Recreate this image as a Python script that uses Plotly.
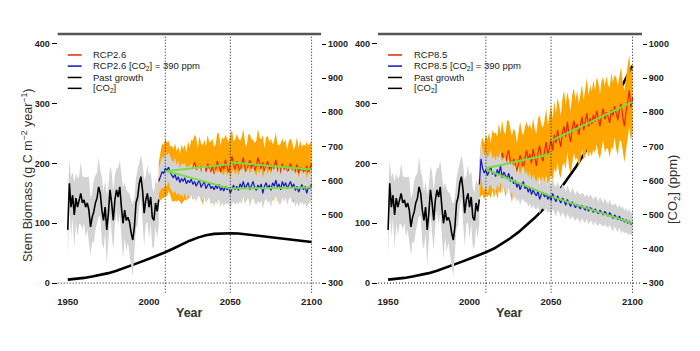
import plotly.graph_objects as go

# ---------------- data ----------------
past_years = list(range(1950, 2007))
past_growth = [89, 167, 127, 147, 114, 142, 127, 139, 150, 134,
               139, 127, 134, 122, 94, 110, 119, 134, 142, 161,
               150, 122, 105, 127, 89, 117, 156, 134, 105, 139,
               156, 144, 161, 127, 100, 122, 105, 110, 102, 84,
               72, 94, 134, 144, 167, 178, 156, 117, 139, 150,
               127, 144, 110, 105, 134, 120, 140]
past_spread = [45, 40, 50, 38, 55, 42, 48, 40, 52, 45,
               38, 50, 44, 56, 48, 40, 52, 46, 42, 50,
               38, 55, 48, 44, 58, 46, 40, 52, 50, 42,
               36, 48, 44, 54, 60, 46, 52, 42, 48, 55,
               60, 50, 42, 46, 38, 36, 44, 56, 40, 48,
               52, 44, 50, 46, 40, 45, 42]

fut_years = list(range(2006, 2101))

rcp26 = [172, 180, 188, 186, 194, 190, 196, 188, 184, 180,
         186, 178, 184, 176, 182, 180, 186, 178, 190, 184,
         196, 188, 202, 192, 185, 198, 190, 180, 194, 186,
         200, 192, 184, 196, 178, 190, 204, 196, 186, 198,
         190, 206, 196, 184, 200, 212, 198, 190, 204, 194,
         186, 200, 210, 194, 182, 198, 206, 192, 200, 188,
         196, 210, 200, 190, 202, 186, 196, 204, 190, 198,
         184, 196, 206, 192, 180, 190, 200, 186, 196, 182,
         192, 200, 188, 178, 190, 198, 184, 194, 180, 190,
         186, 196, 184, 192, 200]
rcp26_spread = [30, 42, 46, 44, 48, 45, 42, 40, 46, 44,
                48, 42, 45, 40, 50, 44, 46, 40, 48, 42,
                44, 50, 46, 52, 40, 48, 44, 50, 46, 42,
                48, 44, 52, 46, 50, 42, 48, 54, 44, 46,
                50, 42, 46, 52, 48, 44, 40, 50, 46, 48,
                52, 44, 48, 42, 46, 50, 44, 48, 40, 46,
                42, 48, 44, 50, 46, 40, 48, 42, 46, 44,
                48, 42, 46, 40, 50, 44, 42, 48, 44, 40,
                46, 42, 48, 44, 40, 46, 42, 44, 48, 42,
                44, 40, 46, 42, 38]
rcp26_const = [170, 178, 186, 183, 192, 188, 194, 185, 180, 176,
               182, 172, 178, 168, 175, 170, 176, 166, 172, 168,
               174, 165, 170, 162, 168, 172, 160, 166, 170, 158,
               164, 168, 158, 162, 156, 163, 158, 165, 155, 160,
               154, 162, 156, 160, 150, 158, 164, 156, 162, 155,
               166, 160, 170, 158, 164, 168, 156, 162, 170, 160,
               155, 164, 158, 166, 150, 162, 168, 158, 164, 155,
               168, 162, 172, 160, 166, 156, 170, 162, 168, 158,
               164, 170, 160, 166, 155, 162, 152, 160, 165, 156,
               162, 150, 160, 158, 166]
rcp26_const_spread = [20, 24, 26, 25, 28, 26, 24, 27, 25, 26,
                      28, 25, 27, 24, 26, 28, 25, 27, 24, 26,
                      27, 25, 28, 26, 24, 27, 25, 28, 26, 25,
                      27, 24, 26, 28, 25, 27, 26, 24, 28, 25,
                      26, 28, 24, 27, 25, 26, 28, 25, 27, 24,
                      26, 28, 25, 27, 24, 26, 28, 25, 27, 26,
                      24, 27, 25, 28, 26, 25, 27, 24, 26, 28,
                      25, 27, 26, 24, 28, 25, 27, 26, 25, 28,
                      24, 26, 27, 25, 28, 26, 24, 27, 25, 26,
                      28, 25, 27, 24, 26]

rcp85 = [172, 190, 196, 186, 198, 192, 200, 188, 206, 196,
         204, 192, 212, 200, 218, 206, 196, 214, 222, 204,
         190, 208, 200, 186, 198, 214, 204, 192, 210, 222,
         206, 216, 200, 224, 210, 196, 218, 230, 212, 204,
         220, 236, 214, 226, 240, 222, 248, 234, 256, 240,
         228, 252, 262, 244, 270, 250, 236, 258, 272, 256,
         266, 248, 262, 278, 256, 270, 284, 262, 276, 266,
         282, 270, 288, 276, 262, 280, 292, 274, 286, 278,
         268, 290, 280, 296, 284, 272, 292, 300, 278, 262,
         286, 304, 322, 294, 310]
rcp85_spread = [30, 44, 48, 46, 50, 48, 52, 46, 50, 54,
                48, 52, 56, 50, 54, 48, 52, 58, 50, 54,
                56, 50, 54, 48, 52, 56, 50, 54, 52, 48,
                54, 50, 56, 52, 48, 54, 58, 50, 54, 56,
                52, 56, 50, 54, 58, 52, 56, 50, 54, 58,
                52, 56, 60, 54, 50, 56, 52, 58, 54, 50,
                56, 52, 58, 54, 50, 56, 60, 52, 56, 54,
                58, 52, 56, 60, 54, 58, 52, 56, 60, 54,
                58, 62, 56, 52, 60, 58, 54, 62, 56, 60,
                58, 62, 60, 56, 58]
rcp85_const = [165, 208, 192, 184, 190, 180, 188, 194, 182, 186,
               178, 190, 182, 196, 176, 186, 180, 174, 184, 170,
               178, 166, 172, 160, 168, 156, 164, 170, 158, 162,
               152, 160, 148, 156, 150, 146, 154, 140, 148, 152,
               144, 150, 140, 146, 138, 150, 142, 136, 146, 140,
               134, 142, 138, 130, 140, 134, 128, 136, 132, 126,
               132, 128, 124, 130, 126, 122, 128, 120, 126, 124,
               118, 124, 120, 116, 122, 118, 114, 120, 116, 112,
               118, 112, 108, 114, 110, 106, 112, 104, 108, 102,
               106, 100, 104, 98, 102]
rcp85_const_spread = [24, 30, 32, 30, 28, 30, 27, 29, 26, 28,
                      27, 25, 28, 26, 27, 25, 28, 26, 24, 27,
                      25, 28, 26, 24, 27, 25, 26, 28, 24, 26,
                      25, 27, 24, 26, 25, 23, 26, 24, 25, 27,
                      24, 26, 23, 25, 24, 26, 23, 25, 24, 22,
                      24, 23, 25, 22, 24, 23, 22, 24, 23, 22,
                      23, 22, 24, 21, 23, 22, 21, 23, 22, 21,
                      22, 21, 23, 20, 22, 21, 20, 22, 21, 20,
                      21, 20, 22, 19, 21, 20, 19, 21, 20, 19,
                      20, 19, 21, 18, 20]

trend_x = [2010, 2050, None, 2050, 2100]
trend26_hi = [187, 199, None, 202, 190]
trend26_lo = [188, 158, None, 158, 160]
trend85_hi = [192, 216, None, 238, 303]
trend85_lo = [190, 145, None, 145, 100]

co2_years = [1950, 1955, 1960, 1965, 1970, 1975, 1980, 1985, 1990, 1995,
             2000, 2005, 2010, 2015, 2020, 2025, 2030, 2035, 2040, 2045,
             2050, 2055, 2060, 2065, 2070, 2075, 2080, 2085, 2090, 2095, 2100]
co2_rcp26 = [310, 312, 315, 319, 323, 329, 336, 344, 353, 362,
             371, 380, 390, 401, 413, 424, 433, 440, 444, 446,
             446, 445, 443, 440, 437, 434, 431, 428, 425, 422, 420]
co2_rcp85 = [310, 312, 315, 319, 323, 329, 336, 344, 353, 362,
             371, 380, 390, 401, 415, 431, 449, 469, 491, 515,
             541, 571, 603, 638, 676, 716, 758, 800, 845, 890, 936]

dotted_years = [2010, 2050, 2100]
bio_ticks = [0, 100, 200, 300, 400]
co2_ticks = [300, 400, 500, 600, 700, 800, 900, 1000]
year_ticks = [1950, 2000, 2050, 2100]

panels = [
    dict(name="RCP2.6", rcp=rcp26, rcp_sp=rcp26_spread, const=rcp26_const,
         const_sp=rcp26_const_spread, thi=trend26_hi, tlo=trend26_lo, co2=co2_rcp26),
    dict(name="RCP8.5", rcp=rcp85, rcp_sp=rcp85_spread, const=rcp85_const,
         const_sp=rcp85_const_spread, thi=trend85_hi, tlo=trend85_lo, co2=co2_rcp85),
]

# ---------------- styles ----------------
ORANGE = "#ffa500"
RED = "#ee2200"
BLUE = "#1515c8"
GREY = "#d3d3d3"
GREEN = "#77dd44"
FONT = "Liberation Sans"
DOT = dict(color="#112", width=1, dash="1px,2px")

fig = go.Figure()


def band(x, mid, sp, color, xa, ya):
    up = [m + s for m, s in zip(mid, sp)]
    lo = [m - s for m, s in zip(mid, sp)]
    fig.add_trace(go.Scatter(x=x + x[::-1], y=up + lo[::-1], fill="toself",
                             fillcolor=color, line=dict(width=0), mode="lines", zorder=1,
                             xaxis=xa, yaxis=ya, hoverinfo="skip", showlegend=False))


def line(x, y, color, width, xa, ya, z=1):
    fig.add_trace(go.Scatter(x=x, y=y, mode="lines", line=dict(color=color, width=width),
                             xaxis=xa, yaxis=ya, showlegend=False, connectgaps=False,
                             zorder=z))


# base axis = CO2 (right side), overlay axis = biomass (left side)
axis_ids = [("x", "y2", "y"), ("x2", "y4", "y3")]
for p, (xa, ya_bio, ya_co2) in zip(panels, axis_ids):
    line(co2_years, p["co2"], "black", 2.6, xa, ya_co2, z=-1)
    band(past_years, past_growth, past_spread, GREY, xa, ya_bio)
    line(past_years, past_growth, "black", 1.6, xa, ya_bio)
    band(fut_years, p["rcp"], p["rcp_sp"], ORANGE, xa, ya_bio)
    line(fut_years, p["rcp"], RED, 1.2, xa, ya_bio)
    band(fut_years, p["const"], p["const_sp"], GREY, xa, ya_bio)
    line(fut_years, p["const"], BLUE, 1.2, xa, ya_bio)
    line(trend_x, p["thi"], GREEN, 2, xa, ya_bio)
    line(trend_x, p["tlo"], GREEN, 2, xa, ya_bio)

# ---------------- layout ----------------
ydom = [0.166, 0.9031]
xdoms = [[0.0824, 0.4586], [0.54, 0.9171]]
tickfont = dict(family=FONT, size=9, color="#222", weight="bold")
common_ax = dict(showgrid=False, zeroline=False, showline=True, linecolor="black",
                 linewidth=1.2, tickfont=tickfont)

layout = dict(width=700, height=351, margin=dict(l=0, r=0, t=0, b=0),
              paper_bgcolor="white", plot_bgcolor="white", showlegend=False)
for i, (xa, ya_bio, ya_co2) in enumerate(axis_ids):
    xk = "xaxis" if xa == "x" else "xaxis2"
    layout[xk] = dict(common_ax, domain=xdoms[i], range=[1943.8, 2105.8], anchor=ya_co2,
                      tickvals=year_ticks, ticks="",
                      tickfont=dict(family=FONT, size=9.5, color="#222", weight="bold"))
    layout["yaxis" + ya_co2[1:]] = dict(common_ax, domain=ydom, range=[271.6, 1029.3],
                                         anchor=xa, side="right", tickvals=co2_ticks,
                                         ticks="outside", ticklen=4, tickcolor="black")
    layout["yaxis" + ya_bio[1:]] = dict(common_ax, range=[-16.2, 416.7], anchor=xa,
                                         overlaying=ya_co2, side="left", tickvals=bio_ticks,
                                         ticks="outside", ticklen=5, tickcolor="black")
fig.update_layout(**layout)

shapes = []
annotations = []
for i, (xa, ya_bio, ya_co2) in enumerate(axis_ids):
    for yr in dotted_years:
        shapes.append(dict(type="line", xref=xa, yref=ya_co2 + " domain", x0=yr, x1=yr,
                           y0=0, y1=1, line=DOT, layer="above"))
    shapes.append(dict(type="line", xref=xa + " domain", yref=ya_bio, x0=0, x1=1, y0=0, y1=0,
                       line=DOT, layer="above"))
    shapes.append(dict(type="line", xref=xa + " domain", yref=ya_co2 + " domain", x0=0, x1=1,
                       y0=1, y1=1, line=dict(color="#555", width=2.5), layer="above"))
    # legend
    name = panels[i]["name"]
    items = [(name, RED), (name + " [CO<sub>2</sub>] = 390 ppm", BLUE),
             ("Past growth", "black"), ("[CO<sub>2</sub>]", "black")]
    ys = [0.919, 0.876, 0.832, 0.790]
    for (txt, col), yy in zip(items, ys):
        shapes.append(dict(type="line", xref=xa + " domain", yref=ya_co2 + " domain",
                           x0=0.038, x1=0.091, y0=yy, y1=yy, line=dict(color=col, width=1.5)))
        annotations.append(dict(xref=xa + " domain", yref=ya_co2 + " domain", x=0.128, y=yy,
                                text=txt, showarrow=False, xanchor="left", yanchor="middle",
                                font=dict(family=FONT, size=9.5, color="#222")))
    annotations.append(dict(xref=xa + " domain", yref="paper", x=0.5, y=1 - 313 / 351,
                            text="Year", showarrow=False, xanchor="center", yanchor="middle",
                            font=dict(family=FONT, size=12.5, color="#333", weight="bold")))

annotations.append(dict(xref="paper", yref="paper", x=27 / 700, y=1 - 175 / 351,
                        text="Stem Biomass (g C m<sup>−2</sup> year<sup>−1</sup>)",
                        textangle=-90, showarrow=False, xanchor="center", yanchor="middle",
                        font=dict(family=FONT, size=12.5, color="#333")))
annotations.append(dict(xref="paper", yref="paper", x=673 / 700, y=1 - 190 / 351,
                        text="[CO<sub>2</sub>] (ppm)", textangle=-90, showarrow=False,
                        xanchor="center", yanchor="middle",
                        font=dict(family=FONT, size=13, color="#333")))

fig.update_layout(shapes=shapes, annotations=annotations)
fig.write_html("out.html")
